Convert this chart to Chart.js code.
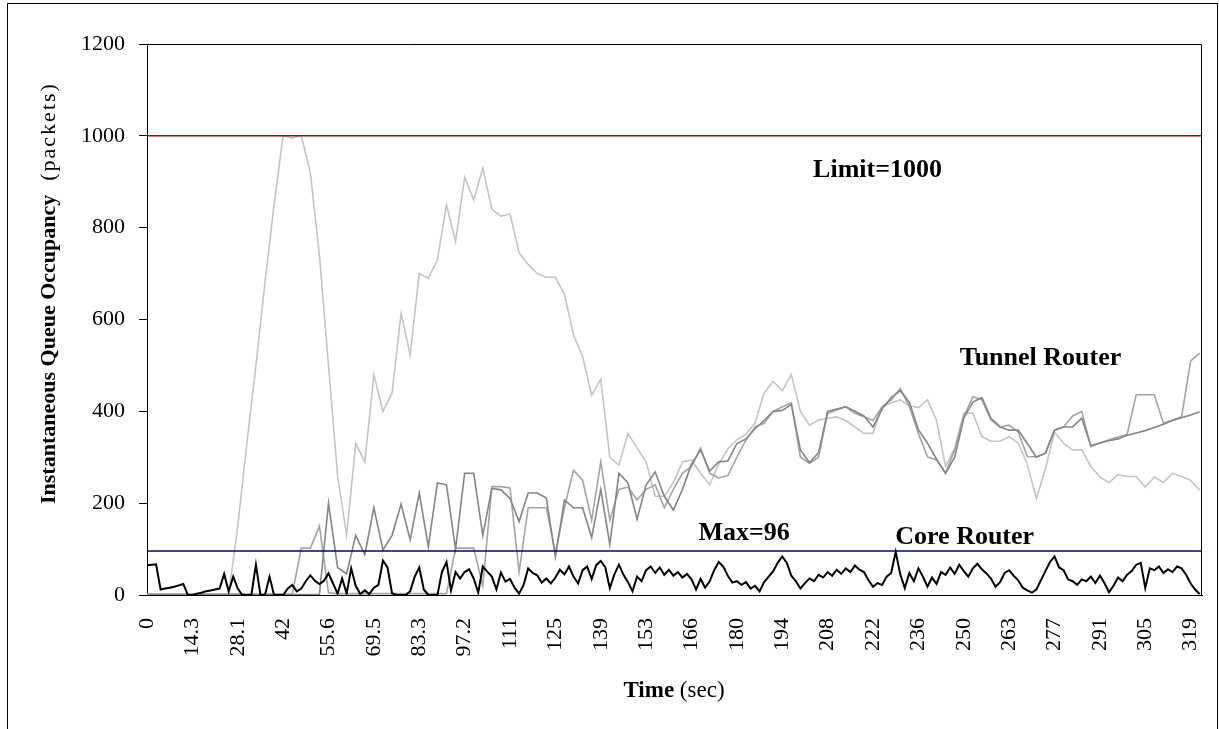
<!DOCTYPE html>
<html>
<head>
<meta charset="utf-8">
<script src="https://cdn.jsdelivr.net/npm/chart.js"></script>
<style>
  body { margin: 0; background: #fff; }
  canvas { display: block; }
</style>
</head>
<body>
<canvas id="queueChart" width="1219" height="729"></canvas>
<script>
// Étiquettes de l'axe du temps (une par intervalle)
var tickLabels = ['0', '14.3', '28.1', '42', '55.6', '69.5', '83.3', '97.2', '111', '125', '139', '153',
    '166', '180', '194', '208', '222', '236', '250', '263', '277', '291', '305', '319'];

// pas d'échantillonnage, en intervalles d'étiquette
var tunnelStep = 0.2;
var coreStep = 0.1;

var limitValue = 1000;
var maxValue = 96;

// Routeurs tunnel (trois courbes grises)
var tunnelA = [0, 0, 0, 0, 0, 0, 0, 0, 0, 0,
    150, 330, 500, 680, 850, 1000, 995, 1000, 920, 740,
    500, 260, 130, 330, 290, 480, 400, 440, 613, 523,
    700, 690, 730, 850, 770, 910, 860, 930, 840, 825,
    830, 745, 720, 700, 692, 692, 655, 566, 519, 435,
    470, 300, 283, 352, 320, 290, 215, 215, 245, 290,
    294, 265, 240, 285, 318, 338, 350, 375, 440, 465,
    445, 480, 400, 370, 381, 385, 388, 380, 366, 352,
    352, 410, 418, 425, 412, 408, 425, 380, 280, 320,
    396, 396, 345, 335, 335, 345, 331, 285, 210, 275,
    355, 330, 316, 316, 280, 257, 245, 262, 258, 258,
    235, 257, 245, 265, 258, 250, 228];

var tunnelB = [2, 2, 2, 2, 2, 2, 2, 2, 2, 2,
    2, 2, 2, 2, 2, 2, 2, 102, 102, 150,
    5, 3, 3, 3, 3, 3, 3, 3, 3, 3,
    3, 3, 3, 3, 102, 102, 102, 20, 236, 236,
    233, 50, 190, 190, 190, 91, 190, 272, 250, 163,
    290, 163, 230, 235, 207, 230, 240, 190, 230, 265,
    280, 320, 265, 255, 260, 300, 338, 366, 374, 400,
    410, 418, 300, 287, 300, 396, 403, 410, 396, 388,
    380, 410, 425, 450, 410, 352, 301, 294, 265, 316,
    388, 432, 425, 381, 366, 370, 355, 301, 301, 309,
    359, 366, 390, 400, 323, 331, 338, 344, 350, 436,
    436, 436, 374, 381, 388, 510, 527];

var tunnelC = [1, 1, 1, 1, 1, 1, 1, 1, 1, 1,
    1, 1, 1, 1, 1, 1, 1, 1, 1, 1,
    200, 60, 46, 130, 88, 190, 98, 130, 198, 120,
    222, 105, 244, 240, 100, 265, 265, 130, 232, 229,
    210, 160, 222, 222, 211, 83, 207, 190, 190, 125,
    230, 110, 265, 244, 165, 240, 268, 215, 185, 230,
    285, 316, 270, 290, 292, 330, 340, 362, 380, 400,
    402, 415, 316, 288, 310, 400, 405, 410, 400, 390,
    366, 405, 430, 445, 420, 360, 331, 296, 265, 300,
    385, 420, 430, 385, 366, 359, 359, 330, 300, 309,
    359, 366, 366, 385, 325, 331, 336, 340, 348, 353,
    358, 365, 372, 380, 386, 392, 399];

// Routeur de coeur (courbe noire)
var coreRouter = [65, 66, 67, 12, 14, 16, 18, 21, 24, 0,
    0, 3, 5, 8, 10, 12, 14, 46, 8, 40,
    14, 0, 0, 0, 66, 0, 0, 40, 0, 0,
    0, 14, 22, 8, 14, 30, 43, 31, 24, 31,
    47, 25, 3, 36, 3, 58, 20, 2, 10, 2,
    16, 22, 75, 60, 4, 0, 0, 0, 8, 40,
    60, 12, 0, 0, 0, 50, 72, 10, 50, 36,
    50, 56, 36, 5, 62, 51, 40, 12, 49, 29,
    35, 16, 3, 22, 58, 48, 43, 27, 36, 25,
    38, 55, 45, 62, 40, 25, 54, 62, 35, 65,
    74, 60, 15, 45, 66, 44, 28, 8, 40, 30,
    54, 62, 48, 60, 44, 55, 42, 50, 38, 46,
    34, 12, 35, 16, 30, 54, 72, 62, 42, 27,
    30, 22, 28, 14, 20, 8, 28, 40, 52, 70,
    84, 70, 42, 30, 14, 26, 36, 30, 44, 38,
    50, 42, 55, 46, 58, 50, 64, 55, 50, 32,
    18, 26, 22, 40, 48, 94, 45, 15, 48, 30,
    58, 40, 18, 38, 24, 50, 44, 60, 46, 66,
    52, 40, 58, 68, 56, 47, 36, 18, 28, 48,
    54, 42, 32, 16, 10, 5, 12, 32, 52, 72,
    84, 60, 54, 34, 30, 22, 34, 30, 40, 26,
    42, 26, 6, 20, 38, 30, 44, 52, 66, 70,
    15, 58, 54, 62, 48, 56, 50, 62, 58, 44,
    25, 12, 2];

// Textes posés dans le graphique (x en intervalles, y en paquets)
var notes = [
    { text: 'Limit=1000', x: 16.1, y: 926 },
    { text: 'Tunnel Router', x: 19.69, y: 516 },
    { text: 'Max=96', x: 13.16, y: 135 },
    { text: 'Core Router', x: 18.02, y: 126 }
];

var xMax = 23.25;
var serif = "'Liberation Serif', 'Times New Roman', serif";

function toPoints(values, step) {
    return values.map(function (v, i) { return { x: i * step, y: v }; });
}

function flat(value) {
    return [{ x: 0, y: value }, { x: xMax, y: value }];
}

var chartText = {
    id: 'chartText',
    beforeDraw: function (chart) {
        var ctx = chart.ctx;
        ctx.save();
        ctx.fillStyle = '#fff';
        ctx.fillRect(0, 0, chart.width, chart.height);
        ctx.restore();
    },
    afterDraw: function (chart) {
        var ctx = chart.ctx;
        var area = chart.chartArea;
        var xs = chart.scales.x, ys = chart.scales.y;
        ctx.save();
        ctx.strokeStyle = '#000';
        ctx.lineWidth = 1;
        // cadre extérieur
        ctx.strokeRect(7.5, 3.5, 1210, 760);
        // bord haut et droit de la zone de tracé
        ctx.beginPath();
        ctx.moveTo(area.left, area.top + 0.5);
        ctx.lineTo(area.right - 0.5, area.top + 0.5);
        ctx.lineTo(area.right - 0.5, area.bottom);
        ctx.stroke();

        ctx.fillStyle = '#000';
        ctx.font = 'bold 26px ' + serif;
        ctx.textAlign = 'center';
        ctx.textBaseline = 'middle';
        notes.forEach(function (n) {
            ctx.fillText(n.text, xs.getPixelForValue(n.x), ys.getPixelForValue(n.y));
        });

        // titre de l'axe x
        ctx.textAlign = 'left';
        ctx.textBaseline = 'alphabetic';
        ctx.font = 'bold 23px ' + serif;
        var w1 = ctx.measureText('Time').width;
        ctx.font = '23px ' + serif;
        var w2 = ctx.measureText(' (sec)').width;
        var x0 = 674 - (w1 + w2) / 2;
        ctx.font = 'bold 23px ' + serif;
        ctx.fillText('Time', x0, 697);
        ctx.font = '23px ' + serif;
        ctx.fillText(' (sec)', x0 + w1, 697);

        // titre de l'axe y
        ctx.translate(55, 504);
        ctx.rotate(-Math.PI / 2);
        ctx.font = 'bold 22px ' + serif;
        ctx.fillText('Instantaneous Queue Occupancy', 0, 0);
        var wb = ctx.measureText('Instantaneous Queue Occupancy').width;
        ctx.font = '22px ' + serif;
        ctx.letterSpacing = '2px';
        ctx.fillText('(packets)', wb + 14, 0);
        ctx.restore();
    }
};

var queueCanvas = document.getElementById('queueChart').getContext('2d');
var queueChart = new Chart(queueCanvas, {
    type: 'line',
    data: {
        datasets: [
            { label: 'Core Router', data: toPoints(coreRouter, coreStep), borderColor: '#000', borderWidth: 2, order: 0 },
            { label: 'Max', data: flat(maxValue), borderColor: '#000090', borderWidth: 1.5, order: 1 },
            { label: 'Limit', data: flat(limitValue), borderColor: '#b00000', borderWidth: 1.5, order: 1 },
            { label: 'Tunnel C', data: toPoints(tunnelC, tunnelStep), borderColor: '#858585', borderWidth: 1.6, order: 2 },
            { label: 'Tunnel B', data: toPoints(tunnelB, tunnelStep), borderColor: '#a4a4a4', borderWidth: 1.6, order: 3 },
            { label: 'Tunnel A', data: toPoints(tunnelA, tunnelStep), borderColor: '#c4c4c4', borderWidth: 1.6, order: 4 }
        ]
    },
    options: {
        responsive: false,
        animation: false,
        layout: { padding: { left: 10, right: 17, top: 44, bottom: 0 } },
        elements: { point: { radius: 0 }, line: { tension: 0 } },
        plugins: { legend: { display: false }, tooltip: { enabled: false } },
        scales: {
            x: {
                type: 'linear',
                min: 0,
                max: xMax,
                z: 1,
                grid: { display: false, drawTicks: false },
                border: { display: true, color: '#000', width: 1 },
                ticks: {
                    stepSize: 1,
                    includeBounds: false,
                    autoSkip: false,
                    maxRotation: 90,
                    minRotation: 90,
                    padding: 23,
                    color: '#000',
                    font: { family: serif, size: 22 },
                    callback: function (v) { return Number.isInteger(v) ? tickLabels[v] : ''; }
                },
                afterFit: function (scale) {
                    scale.height = 134;
                    scale.paddingLeft = 0;
                    scale.paddingRight = 0;
                }
            },
            y: {
                min: 0,
                max: 1200,
                z: 1,
                grid: { drawOnChartArea: false, drawTicks: true, tickLength: 8, color: '#000' },
                border: { display: true, color: '#000', width: 1 },
                ticks: {
                    stepSize: 200,
                    padding: 14,
                    color: '#000',
                    font: { family: serif, size: 22 },
                    callback: function (v) { return String(v); }
                },
                afterFit: function (scale) { scale.width = 137; }
            }
        }
    },
    plugins: [chartText]
});
</script>
</body>
</html>
